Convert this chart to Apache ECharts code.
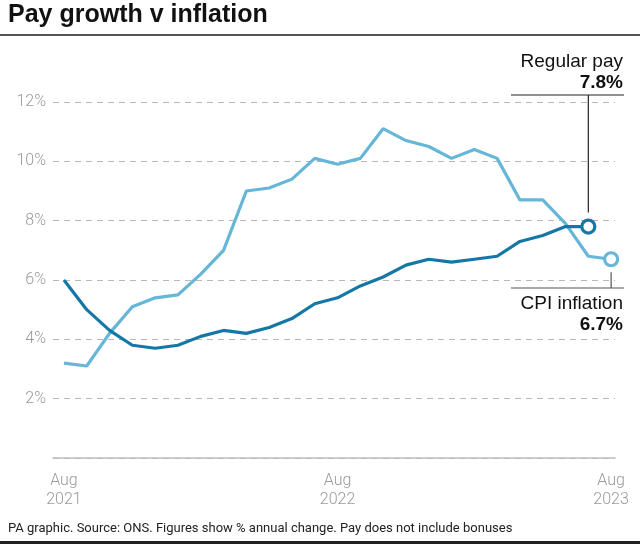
<!DOCTYPE html>
<html>
<head>
<meta charset="utf-8">
<script src="https://cdn.jsdelivr.net/npm/echarts@6/dist/echarts.min.js"></script>
<style>
html,body{margin:0;padding:0;background:#fff;}
#chart{width:640px;height:544px;}
</style>
</head>
<body>
<div id="chart"></div>
<script>
// ---- data ----
const months = ['Aug 2021','Sep 2021','Oct 2021','Nov 2021','Dec 2021','Jan 2022','Feb 2022','Mar 2022','Apr 2022','May 2022','Jun 2022','Jul 2022','Aug 2022','Sep 2022','Oct 2022','Nov 2022','Dec 2022','Jan 2023','Feb 2023','Mar 2023','Apr 2023','May 2023','Jun 2023','Jul 2023','Aug 2023'];
const cpiInflation = [3.2,3.1,4.2,5.1,5.4,5.5,6.2,7.0,9.0,9.1,9.4,10.1,9.9,10.1,11.1,10.7,10.5,10.1,10.4,10.1,8.7,8.7,7.9,6.8,6.7];
const regularPay = [6.0,5.0,4.3,3.8,3.7,3.8,4.1,4.3,4.2,4.4,4.7,5.2,5.4,5.8,6.1,6.5,6.7,6.6,6.7,6.8,7.3,7.5,7.8,7.8];
const xTickMonths = ['Aug 2021','Aug 2022','Aug 2023'];
const yTicks = [0,2,4,6,8,10,12];

const payColor = '#1577a5';
const cpiColor = '#65b6d7';
const FONT = 'Roboto';
const FONT2 = 'Liberation Sans';

const cpiData = cpiInflation.map((v,i)=>[i,v]);
const payData = regularPay.map((v,i)=>[i,v]);
const tickIdx = xTickMonths.map(m=>months.indexOf(m));

const chart = echarts.init(document.getElementById('chart'), null, {renderer:'canvas'});
const option = {
  animation:false,
  backgroundColor:'#fff',
  textStyle:{fontFamily:FONT},
  grid:{left:53,right:25,top:102,bottom:86},
  xAxis:{
    type:'value', min:-0.48, max:24.17,
    splitLine:{show:false},
    axisTick:{show:false},
    axisLine:{show:true,onZero:true,lineStyle:{color:'#bdbdbd',width:1.5}},
    axisLabel:{
      customValues:tickIdx,
      formatter:(v)=>{const m=months[Math.round(v)]; return m ? m.replace(' ','\n') : '';},
      color:'#9a9a9a',fontSize:16,fontWeight:300,lineHeight:19,margin:13,fontFamily:FONT
    }
  },
  yAxis:{
    type:'value',min:yTicks[0],max:yTicks[yTicks.length-1],interval:2,
    axisLine:{show:false},axisTick:{show:false},
    splitLine:{show:true,lineStyle:{color:'#b8b8b8',type:[6,5],width:1.2}},
    axisLabel:{formatter:'{value}%',showMinLabel:false,color:'#9a9a9a',fontSize:16,fontWeight:300,margin:7,fontFamily:FONT}
  },
  series:[
    {type:'line',name:'CPI inflation',data:cpiData,showSymbol:false,symbol:'none',
     lineStyle:{color:cpiColor,width:3.2},z:2},
    {type:'line',name:'Regular pay',data:payData,showSymbol:false,symbol:'none',
     lineStyle:{color:payColor,width:3.2},z:3},
    {type:'scatter',data:[cpiData[cpiData.length-1]],symbol:'circle',symbolSize:13,
     itemStyle:{color:'#fff',borderColor:cpiColor,borderWidth:3.2,opacity:1},z:4},
    {type:'scatter',data:[payData[payData.length-1]],symbol:'circle',symbolSize:13,
     itemStyle:{color:'#fff',borderColor:payColor,borderWidth:3.2,opacity:1},z:5}
  ]
};
chart.setOption(option);

const pPay = chart.convertToPixel({gridIndex:0}, payData[payData.length-1]);
const pCpi = chart.convertToPixel({gridIndex:0}, cpiData[cpiData.length-1]);

chart.setOption({
  graphic:[
    {type:'text',left:8,top:3,style:{text:'Pay growth v inflation',fontFamily:FONT2,fontWeight:'bold',fontSize:25,fill:'#111'}},
    {type:'rect',shape:{x:0,y:34,width:640,height:2},style:{fill:'#555'}},
    {type:'text',left:8,top:522,style:{text:'PA graphic. Source: ONS. Figures show % annual change. Pay does not include bonuses',fontFamily:FONT,fontSize:13,fill:'#222'}},
    {type:'rect',shape:{x:0,y:541,width:640,height:3},style:{fill:'#222'}},
    // Regular pay annotation
    {type:'text',x:623,y:52,style:{text:'Regular pay',align:'right',verticalAlign:'top',fontFamily:FONT2,fontSize:19,fill:'#111'}},
    {type:'text',x:623,y:73,style:{text:'7.8%',align:'right',verticalAlign:'top',fontFamily:FONT2,fontWeight:'bold',fontSize:19,fill:'#111'}},
    {type:'line',shape:{x1:511,y1:95,x2:624,y2:95},style:{stroke:'#222',lineWidth:1.2}},
    {type:'line',shape:{x1:pPay[0],y1:95,x2:pPay[0],y2:pPay[1]-14},style:{stroke:'#222',lineWidth:1.2}},
    // CPI annotation
    {type:'line',shape:{x1:pCpi[0],y1:pCpi[1]+13,x2:pCpi[0],y2:288},style:{stroke:'#555',lineWidth:1.2}},
    {type:'line',shape:{x1:511,y1:288,x2:624,y2:288},style:{stroke:'#555',lineWidth:1.2}},
    {type:'text',x:623,y:294,style:{text:'CPI inflation',align:'right',verticalAlign:'top',fontFamily:FONT2,fontSize:19,fill:'#111'}},
    {type:'text',x:623,y:315,style:{text:'6.7%',align:'right',verticalAlign:'top',fontFamily:FONT2,fontWeight:'bold',fontSize:19,fill:'#111'}}
  ]
});
</script>
</body>
</html>
